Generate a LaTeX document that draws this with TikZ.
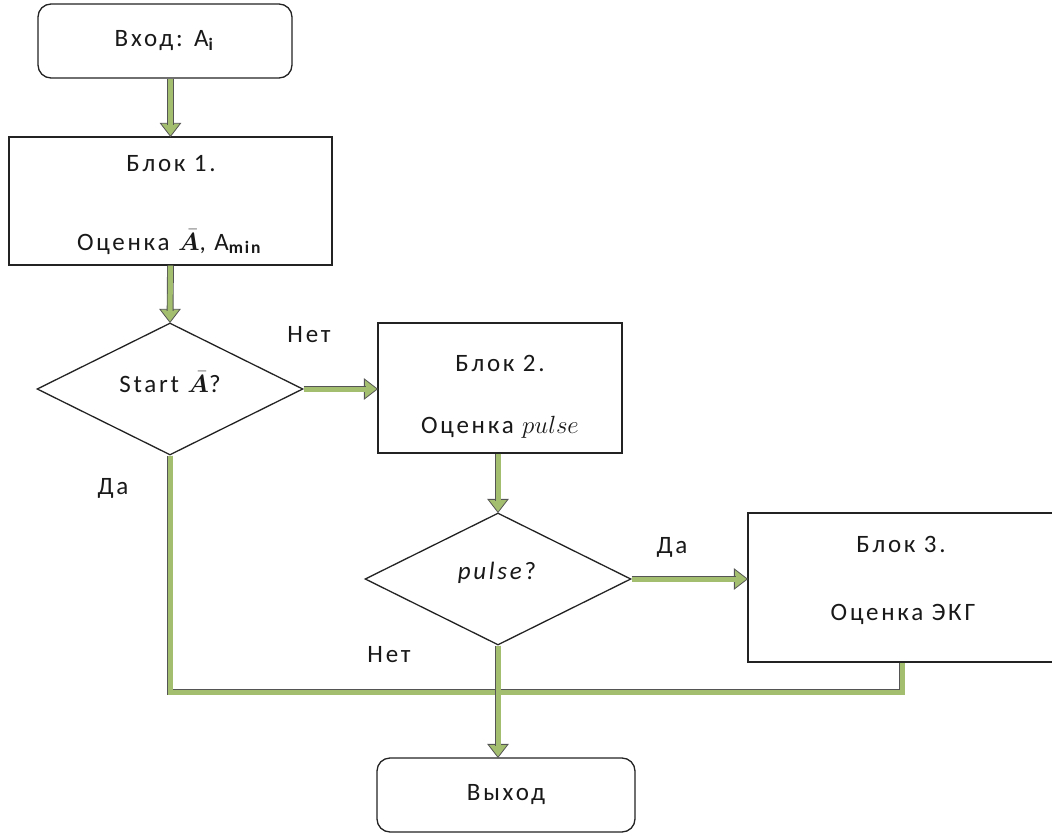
\documentclass[tikz,border=0pt]{standalone}
\usepackage{amsmath}
\usepackage{bm}
\usepackage{fontspec}
\setmainfont[LetterSpace=11]{Carlito}
\usetikzlibrary{shapes.geometric,calc}

\definecolor{boxline}{RGB}{35,35,35}
\definecolor{arrowfill}{RGB}{163,190,110}
\definecolor{arrowline}{RGB}{85,85,85}
\definecolor{txtcol}{RGB}{25,25,25}

% arrow heads of the thick green connectors
\newcommand\tipdown[1]{\draw[flowtip] (#1) -- ++(-10,-13) -- ++(20,0) -- cycle;}
\newcommand\tipright[1]{\draw[flowtip] (#1) -- ++(-13,-10) -- ++(0,20) -- cycle;}

\begin{document}
\begin{tikzpicture}[x=1pt,y=-1pt,
  every node/.style={text=txtcol,font=\fontsize{25}{30}\selectfont},
  box/.style={draw=boxline,line width=1.3pt,fill=white,rectangle,inner sep=0pt},
  rbox/.style={box,rounded corners=13pt},
  dia/.style={draw=boxline,line width=1.3pt,fill=white,diamond,aspect=2,
              inner sep=0pt,minimum width=266pt,minimum height=132pt},
  lbl/.style={inner sep=0pt},
  flowshaft/.style={draw=arrowline,line width=0.9pt,double=arrowfill,
                    double distance=5pt,line join=miter},
  flowtip/.style={draw=arrowline,line width=0.8pt,fill=arrowfill,line join=miter}]
\useasboundingbox (0,0) rectangle (1052,834);
\clip (0,0) rectangle (1052,834);

% blocks
\node[rbox,minimum width=254pt,minimum height=74pt] (in) at (165,41) {Вход: A\textsubscript{\textbf{i}}};
\node[box,minimum width=323pt,minimum height=128pt] (b1) at (170.5,201) {};
\node[dia] (d1) at (170,389) {};
\node[box,minimum width=244pt,minimum height=130pt] (b2) at (500,388) {};
\node[dia] (d2) at (498,579) {};
\node[box,minimum width=308pt,minimum height=149pt] (b3) at (902,587.5) {};
\node[rbox,minimum width=258pt,minimum height=74pt] (out) at (506,795) {Выход};

% block and decision texts
\node[lbl] (b1a) at (171,164) {Блок 1.};
\node[lbl] (b1b) at (170,242) {Оценка $\bar{\bm A}$, A\textsubscript{\textbf{min}}};
\node[lbl] (b2a) at (500,363) {Блок 2.};
\node[lbl] (b2b) at (500,427) {Оценка $pulse$};
\node[lbl] (b3a) at (901,544) {Блок 3.};
\node[lbl] (b3b) at (903,614) {Оценка ЭКГ};
\node[lbl] (d1t) at (170,382) {Start $\bar{\bm A}$?};
\node[lbl] (d2t) at (497,573) {\textit{pulse}?};

% branch labels
\node[lbl] (no1)  at (309,335) {Нет};
\node[lbl] (yes1) at (113,488) {Да};
\node[lbl] (yes2) at (672,547) {Да};
\node[lbl] (no2)  at (389,655) {Нет};

% connectors
\coordinate (merge) at (0,692);
\draw[flowshaft] (d1.south) |- (merge -| b3.south) -- (b3.south);

\tipdown{b1.north}
\draw[flowshaft,shorten >=11.5pt] (b1.north |- in.south) -- (b1.north);

\tipdown{d1.north}
\draw[flowshaft,shorten >=11.5pt] (b1.south) -- (d1.north);

\tipright{d1.east -| b2.west}
\draw[flowshaft,shorten >=11.5pt] (d1.east) -- (d1.east -| b2.west);

\tipdown{d2.north}
\draw[flowshaft,shorten >=11.5pt] (b2.south -| d2.north) -- (d2.north);

\tipright{d2.east -| b3.west}
\draw[flowshaft,shorten >=11.5pt] (d2.east) -- (d2.east -| b3.west);

\tipdown{d2.south |- out.north}
\draw[flowshaft,shorten >=11.5pt] (d2.south) -- (d2.south |- out.north);
\end{tikzpicture}
\end{document}
